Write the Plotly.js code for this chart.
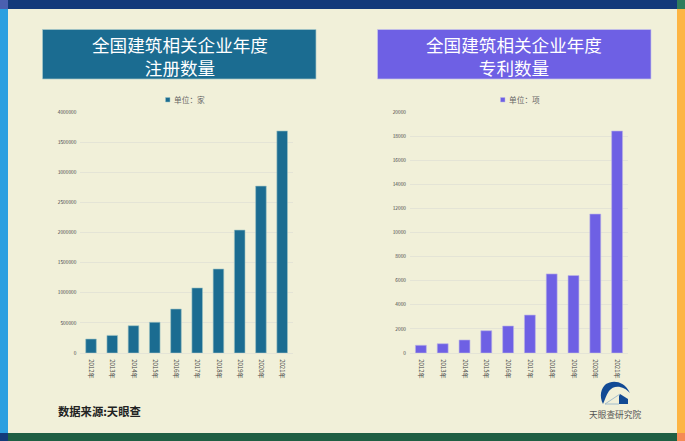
<!DOCTYPE html>
<html><head><meta charset="utf-8">
<script src="https://cdn.plot.ly/plotly-3.0.1.min.js"></script>
<style>html,body{margin:0;padding:0;background:#f1f0d9}</style></head>
<body><div id="c" style="width:685px;height:441px"></div>
<script>
const years = ['2012年','2013年','2014年','2015年','2016年','2017年','2018年','2019年','2020年','2021年'];
const companies = [232000,292000,453000,510000,730000,1080000,1394000,2040000,2770000,3685000];
const patents = [640,770,1080,1850,2240,3150,6560,6430,11530,18420];
const W=685,H=441;
const px=v=>v/W, py=v=>1-v/H;
const font='"Noto Sans CJK SC","Noto Sans",sans-serif';
const rect=(x0,y0,x1,y1,c,line,layer)=>({type:'rect',xref:'paper',yref:'paper',x0:px(x0),x1:px(x1),y0:py(y1),y1:py(y0),fillcolor:c,line:line||{width:0},layer:layer||'below'});
const txt=(x,y,t,size,color,extra)=>Object.assign({xref:'paper',yref:'paper',x:px(x),y:py(y),text:t,showarrow:false,font:{family:font,size:size,color:color},xanchor:'center',yanchor:'middle'},extra||{});
const xa=(dom,anchor)=>({domain:dom,anchor:anchor,type:'category',tickangle:90,tickfont:{family:font,size:6,color:'#444'},ticks:'',showgrid:false,showline:true,linecolor:'#e4e4d6',linewidth:1,automargin:false,ticklabelstandoff:4});
const ya=(anchor,max,dt)=>({domain:[py(353),py(112)],anchor:anchor,range:[0,max],dtick:dt,tickfont:{family:font,size:4.8,color:'#444'},tickformat:'d',ticks:'',gridcolor:'#e4e4d6',gridwidth:1,zeroline:false,showline:false,automargin:false,ticklabelstandoff:3});
const traces=[
 {type:'bar',x:years,y:companies,xaxis:'x',yaxis:'y',name:'单位：家',width:0.5,marker:{color:'#1b6c91',line:{color:'#9fc4c4',width:0.6}},showlegend:false},
 {type:'bar',x:years,y:patents,xaxis:'x2',yaxis:'y2',name:'单位：项',width:0.5,marker:{color:'#6e60e4',line:{color:'#bcb6e6',width:0.6}},showlegend:false}
];
const path=(d,fill,line)=>({type:'path',xref:'paper',yref:'paper',layer:'above',fillcolor:fill,line:line||{width:0},path:d});
const P=(x,y)=>`${px(x)} ${py(y)}`;
const layout={
 width:W,height:H,margin:{l:0,r:0,t:0,b:0},paper_bgcolor:'#f1f0d9',plot_bgcolor:'rgba(0,0,0,0)',bargap:0.5,showlegend:false,
 xaxis:xa([px(80.4),px(292.8)],'y'),yaxis:ya('x',4000000,500000),
 xaxis2:xa([px(410),px(628)],'y2'),yaxis2:ya('x2',20000,2000),
 shapes:[
  rect(0,0,685,9,'#133a7a'),rect(0,9,8,433,'#2b9fe0'),rect(677,9,685,433,'#fdb543'),rect(8,433,677,441,'#1f5f43'),
  rect(0,0,8,9,'#4a60b0'),rect(677,0,685,9,'#2f7d5c'),rect(0,433,8,441,'#133a7a'),rect(677,433,685,441,'#f58a55'),
  rect(42.5,29.5,316,79,'#1b6c91',{color:'#a9c9c9',width:0.7}),
  rect(377.5,29.5,651,79,'#6e60e4',{color:'#c9c5ea',width:0.7}),
  rect(165.5,97.5,170,102,'#1b6c91',{color:'#9fc4c4',width:0.5}),
  rect(500.5,97.5,505,102,'#6e60e4',{color:'#bcb6e6',width:0.5}),
  path(`M ${P(603,404)} C ${P(599,396)} ${P(601,388)} ${P(606,384)} C ${P(612,380)} ${P(624,380)} ${P(630,393)} C ${P(624,386)} ${P(614,384)} ${P(609,391)} C ${P(606,395)} ${P(605,400)} ${P(603,404)} Z`,'#124a94'),
  path(`M ${P(619,404)} L ${P(619,396)} L ${P(620,394)} L ${P(628,399)} L ${P(628,404)} Z`,'#124a94'),
  path(`M ${P(605,404)} L ${P(620,394)} M ${P(605,404)} L ${P(619,404)}`,'rgba(0,0,0,0)',{color:'#8fb0c8',width:0.8})
 ],
 annotations:[
  txt(179.5,56.5,'全国建筑相关企业年度<br>注册数量',17.6,'#fff'),
  txt(514,56.5,'全国建筑相关企业年度<br>专利数量',17.6,'#fff'),
  txt(172,100,'单位：家',7.7,'#666',{xanchor:'left'}),
  txt(507,99.5,'单位：项',7.7,'#666',{xanchor:'left'}),
  txt(99,411,'<b>数据来源:天眼查</b>',11.3,'#222'),
  txt(615,414,'天眼查研究院',8.7,'#555')
 ]
};
Plotly.newPlot('c',traces,layout,{displayModeBar:false,staticPlot:true});
</script></body></html>
